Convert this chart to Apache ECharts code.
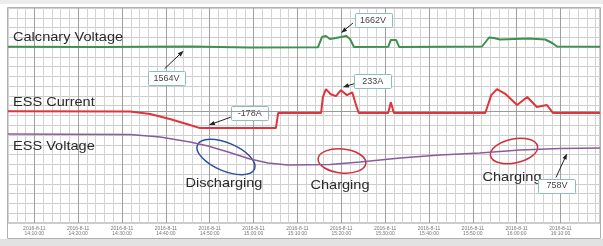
<!DOCTYPE html>
<html>
<head>
<meta charset="utf-8">
<script src="https://cdn.jsdelivr.net/npm/echarts@6.0.0/dist/echarts.min.js"></script>
<style>
html, body { margin: 0; padding: 0; background: #fff; }
#chart { width: 603px; height: 246px; }
</style>
</head>
<body>
<div id="chart"></div>
<script>
// time axis is minutes from the left edge of the record
var calcTime = [0, 21, 41.5, 55, 70.7, 71.6, 72.5, 73.4, 74.8, 75.9, 77.1, 78, 78.9, 86.7, 87.3, 88.5, 89.2, 108.1, 109.7, 110.8, 112.2, 115.6, 118.6, 122.5, 124.1, 125.2, 135];
var calcVolt = [1566, 1564, 1568, 1560, 1562, 1652, 1661, 1635, 1643, 1652, 1662, 1635, 1564, 1565, 1626, 1626, 1564, 1568, 1648, 1643, 1630, 1635, 1639, 1630, 1599, 1568, 1566];

var curTime = [0, 27.8, 32.4, 36.9, 41.5, 43.8, 61.1, 61.6, 71.4, 71.8, 72.5, 73.6, 74.8, 75.9, 77.3, 78.5, 79.4, 80, 86.7, 87.3, 88, 108.8, 109.2, 110.2, 111.5, 113.5, 116.1, 118.4, 120.6, 122.9, 124.3, 135];
var essCurrent = [0, -3, -29, -82, -145, -178, -178, -19, -19, 150, 233, 180, 160, 222, 170, 200, 60, -19, -19, 95, -19, -19, 31, 170, 233, 180, 66, 150, 45, 66, -19, -19];

var voltTime = [0, 27.8, 34.7, 41.5, 45.6, 50.2, 55.2, 59.3, 63.8, 73.4, 80.3, 89.4, 98.5, 107.6, 116.8, 125.9, 135];
var essVolt = [786, 785, 780, 770, 762, 750, 736, 728, 724, 725, 730, 738, 744, 748, 754, 757, 758];

var tickMinutes = [6, 16, 26, 36, 46, 56, 66, 76, 86, 96, 106, 116, 126];
var tickLabels = ['2016-8-11\n14:10:00', '2016-8-11\n14:20:00', '2016-8-11\n14:30:00', '2016-8-11\n14:40:00',
  '2016-8-11\n14:50:00', '2016-8-11\n15:00:00', '2016-8-11\n15:10:00', '2016-8-11\n15:20:00',
  '2016-8-11\n15:30:00', '2016-8-11\n15:40:00', '2016-8-11\n15:50:00', '2016-8-11\n16:00:00',
  '2016-8-11\n16:10:00'];

var traceNames = ['Calcnary Voltage', 'ESS Current', 'ESS Voltage'];
var noteLabels = ['1564V', '1662V', '233A', '-178A', '758V'];
var noteAxis = [0, 0, 1, 1, 2];
var noteTime = [40.5, 77.1, 75.9, 45.8, 127.7];
var noteValue = [1566, 1662, 222, -178, 757];
var stateLabels = ['Discharging', 'Charging', 'Charging'];

// layout of the hand drawn annotations (pixel offsets from the marked point)
var noteLayout = [
  { box: [-19, 31], tail: [-21, 22], tip: [-2, 4] },
  { box: [27, -16], tail: [7, -13], tip: [-5, -3] },
  { box: [32, -9], tail: [15, -7], tip: [2, -3] },
  { box: [41, -15], tail: [22, -11], tip: [0, -3] },
  { box: [-11, 37], tail: [-12, 29], tip: [-1, 5] }
];
var ringLayout = [
  { x: 226, y: 157, rx: 31, ry: 14, rot: -0.4, color: '#2f4f9a', tx: 224, ty: 183 },
  { x: 342, y: 161, rx: 24, ry: 12, rot: -0.1, color: '#d0303a', tx: 340, ty: 185 },
  { x: 514, y: 151, rx: 24, ry: 12, rot: 0.2, color: '#d0303a', tx: 512, ty: 177 }
];
var nameY = [37, 102, 146];

function zip(t, v) {
  var out = [];
  for (var i = 0; i < t.length; i++) out.push([t[i], v[i]]);
  return out;
}

var myChart = echarts.init(document.getElementById('chart'));

myChart.setOption({
  animation: false,
  grid: {
    left: 8, right: 3, top: 8, bottom: 23,
    show: true, borderColor: '#9a9a9a', borderWidth: 1
  },
  xAxis: [{
    type: 'value', min: 0, max: 135, interval: 2,
    axisLine: { show: false }, axisTick: { show: false }, axisLabel: { show: false },
    splitLine: { show: true, lineStyle: { color: '#d3d3d3', width: 1 } }
  }, {
    type: 'value', min: 0, max: 135, position: 'bottom',
    axisLine: { show: true, lineStyle: { color: '#9a9a9a' } },
    axisTick: { show: false, customValues: tickMinutes },
    axisLabel: {
      customValues: tickMinutes,
      fontSize: 5, lineHeight: 5, color: '#777', margin: 3,
      fontFamily: 'Liberation Sans',
      formatter: function (value) {
        var i = tickMinutes.indexOf(value);
        return i >= 0 ? tickLabels[i] : '';
      }
    },
    splitLine: { show: true, lineStyle: { color: '#a0a0a0', width: 1 } }
  }],
  yAxis: [
    { type: 'value', min: 0, max: 1910, show: false },
    { type: 'value', min: -1180, max: 1090, show: false },
    { type: 'value', min: 608, max: 1038, show: false },
    {
      type: 'value', min: 0, max: 22, interval: 1,
      axisLine: { show: false }, axisTick: { show: false }, axisLabel: { show: false },
      splitLine: { show: true, lineStyle: { color: '#cccccc', width: 1 } }
    }
  ],
  series: [{
    name: traceNames[0], type: 'line', xAxisIndex: 0, yAxisIndex: 0,
    symbol: 'none', lineStyle: { color: '#3f9050', width: 2 },
    data: zip(calcTime, calcVolt)
  }, {
    name: traceNames[1], type: 'line', xAxisIndex: 0, yAxisIndex: 1,
    symbol: 'none', lineStyle: { color: '#e0333a', width: 2 },
    data: zip(curTime, essCurrent)
  }, {
    name: traceNames[2], type: 'line', xAxisIndex: 0, yAxisIndex: 2,
    symbol: 'none', lineStyle: { color: '#8a5c9c', width: 1.5 },
    data: zip(voltTime, essVolt)
  }]
});

// annotations drawn on top
var g = [];
g.push({ type: 'rect', shape: { x: 0, y: 0, width: 603, height: 4 }, style: { fill: '#ececec' }, silent: true });
g.push({ type: 'rect', shape: { x: 0, y: 239, width: 603, height: 7 }, style: { fill: '#e2e2e2' }, silent: true });
g.push({ type: 'rect', shape: { x: 7.5, y: 7.5, width: 593, height: 231 }, style: { fill: null, stroke: '#b0b0b0', lineWidth: 1 }, silent: true });

traceNames.forEach(function (name, i) {
  g.push({
    type: 'text', x: 13, y: nameY[i], scaleX: 1.12, silent: true,
    style: { text: name, fill: '#2a2a2a', font: '13px "Liberation Sans"', verticalAlign: 'middle' }
  });
});

ringLayout.forEach(function (r, i) {
  g.push({
    type: 'ellipse', x: r.x, y: r.y, rotation: r.rot, silent: true,
    shape: { cx: 0, cy: 0, rx: r.rx, ry: r.ry },
    style: { fill: null, stroke: r.color, lineWidth: 1.5 }
  });
  g.push({
    type: 'text', x: r.tx, y: r.ty, scaleX: 1.12, silent: true,
    style: { text: stateLabels[i], fill: '#2a2a2a', font: '13px "Liberation Sans"', align: 'center', verticalAlign: 'middle' }
  });
});

noteLabels.forEach(function (label, i) {
  var p = myChart.convertToPixel({ xAxisIndex: 0, yAxisIndex: noteAxis[i] }, [noteTime[i], noteValue[i]]);
  var L = noteLayout[i];
  var tail = [p[0] + L.tail[0], p[1] + L.tail[1]];
  var tip = [p[0] + L.tip[0], p[1] + L.tip[1]];
  var dx = tip[0] - tail[0], dy = tip[1] - tail[1];
  var len = Math.sqrt(dx * dx + dy * dy);
  dx /= len; dy /= len;
  g.push({
    type: 'line', silent: true,
    shape: { x1: tail[0], y1: tail[1], x2: tip[0] - dx * 3, y2: tip[1] - dy * 3 },
    style: { stroke: '#222', lineWidth: 1 }
  });
  g.push({
    type: 'polygon', silent: true,
    shape: { points: [tip, [tip[0] - dx * 6 - dy * 2.2, tip[1] - dy * 6 + dx * 2.2], [tip[0] - dx * 6 + dy * 2.2, tip[1] - dy * 6 - dx * 2.2]] },
    style: { fill: '#222' }
  });
  var bw = 37, bh = 14;
  var cx = p[0] + L.box[0], cy = p[1] + L.box[1];
  g.push({
    type: 'rect', silent: true,
    shape: { x: Math.round(cx - bw / 2) + 0.5, y: Math.round(cy - bh / 2) + 0.5, width: bw, height: bh, r: 1 },
    style: { fill: '#fff', stroke: '#8fbcbc', lineWidth: 1 }
  });
  g.push({
    type: 'text', x: cx, y: cy + 0.5, silent: true,
    style: { text: label, fill: '#444', font: '9px "Liberation Sans"', align: 'center', verticalAlign: 'middle' }
  });
});

myChart.setOption({ graphic: g });
</script>
</body>
</html>
